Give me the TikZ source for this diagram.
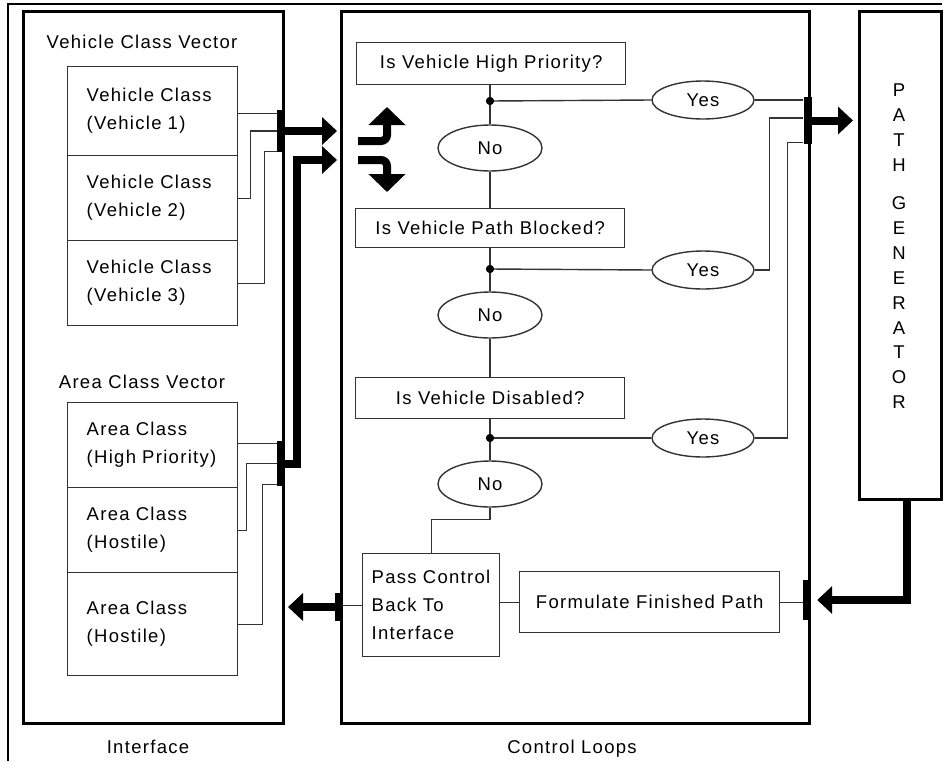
\documentclass[tikz,border=0pt]{standalone}
\usepackage{fontspec}
\setmainfont{Liberation Sans}[LetterSpace=7]
\usetikzlibrary{arrows.meta,shapes.geometric,calc}

\begin{document}
\begin{tikzpicture}[x=1pt,y=-1pt,
  frame/.style={draw=black, line width=3pt, rectangle, inner sep=0pt, anchor=north west},
  box/.style={draw=black!80, line width=1.4pt, rectangle, inner sep=0pt, anchor=north west},
  leftbox/.style={box, align=left, text width=#1, inner xsep=19pt},
  oval/.style={draw=black!80, line width=1.4pt, ellipse, inner sep=0pt},
  nooval/.style={oval, minimum width=104pt, minimum height=46pt},
  yesoval/.style={oval, minimum width=102pt, minimum height=38pt},
  wire/.style={draw=black!80, line width=1.4pt},
  bar/.style={fill=black, minimum width=8pt, inner sep=0pt, rectangle},
  dot/.style={fill=black, circle, minimum size=8pt, inner sep=0pt},
  fat/.style={line width=8pt, line join=miter, -{Triangle[width=27pt,length=15pt]}},
  swap/.style={line width=8pt, rounded corners=6pt, -{Triangle[width=36pt,length=18pt]}},
  font=\fontsize{18.5}{28}\selectfont]

\useasboundingbox (0,0) rectangle (947,761);

% outer frame
\draw[line width=2.5pt] (8,761) -- (8,4) -- (942,4);

% main blocks
\node[frame, minimum width=260pt, minimum height=712pt] (iface) at (22,10) {};
\node[frame, minimum width=468pt, minimum height=712pt] (ctrl) at (340,10) {};
\node[frame, minimum width=82pt, minimum height=488pt] (pgen) at (858,10) {};

\node (ilabel) at (148,747) {Interface};
\node (clabel) at (572,749) {Control Loops};

% path generator letters
\foreach \ch/\yy [count=\i] in {P/90,A/115,T/140,H/165,G/203,E/228,N/253,E/278,R/303,A/328,T/352,O/377,R/402}
  \node (pg\i) at (899,\yy) {\ch};

% interface contents
\node (vvec) at (142,42) {Vehicle Class Vector};
\node[leftbox=132pt, minimum width=170pt, minimum height=89pt] (veh1) at (67,66) {Vehicle Class\\(Vehicle 1)};
\node[leftbox=132pt, minimum width=170pt, minimum height=85pt] (veh2) at (67,155) {Vehicle Class\\(Vehicle 2)};
\node[leftbox=132pt, minimum width=170pt, minimum height=85pt] (veh3) at (67,240) {Vehicle Class\\(Vehicle 3)};

\node (avec) at (142,382) {Area Class Vector};
\node[leftbox=132pt, minimum width=170pt, minimum height=85pt] (area1) at (67,402) {Area Class\\(High Priority)};
\node[leftbox=132pt, minimum width=170pt, minimum height=85pt] (area2) at (67,487) {Area Class\\(Hostile)};
\node[leftbox=132pt, minimum width=170pt, minimum height=103pt] (area3) at (67,572) {Area Class\\(Hostile)};

% collector bars
\node[bar, minimum height=42pt] (vbar) at (281,131) {};
\node[bar, minimum height=45pt] (abar) at (281,463.5) {};
\node[bar, minimum height=47pt] (cbar) at (807.5,120.5) {};
\node[bar, minimum height=40pt] (bbar) at (807,600) {};
\node[bar, minimum height=28pt] (lbar) at (339,607) {};

% control loop contents
\node[box, minimum width=269pt, minimum height=42pt] (q1) at (356,42) {Is Vehicle High Priority?};
\node[box, minimum width=269pt, minimum height=39pt] (q2) at (355,208) {Is Vehicle Path Blocked?};
\node[box, minimum width=269pt, minimum height=41pt] (q3) at (355,377) {Is Vehicle Disabled?};

\node[nooval] (no1) at (490,148) {No};
\node[nooval] (no2) at (490,315) {No};
\node[nooval] (no3) at (490,484) {No};

\node[yesoval] (yes1) at (703,100) {Yes};
\node[yesoval] (yes2) at (703,270) {Yes};
\node[yesoval] (yes3) at (703,438) {Yes};

\node[box, align=left, minimum width=137pt, minimum height=103pt, inner xsep=9pt, text width=119pt] (pass) at (362,553) {Pass Control\\Back To\\Interface};
\node[box, minimum width=260pt, minimum height=61pt] (form) at (519,571) {Formulate Finished Path};

% interface wiring
\draw[wire] ($(veh1.east)+(0,2)$) coordinate (v1) -- (v1 -| vbar.west);
\draw[wire] (veh2.east) -- ++(12,0) |- (vbar.west);
\draw[wire] (veh3.east) -- ++(26,0) |- ($(vbar.south west)+(0,-1)$);
\draw[wire] ($(area1.east)+(0,-1.5)$) coordinate (a1) -- (a1 -| abar.west);
\draw[wire] (area2.east) -- ++(8,0) |- (abar.west);
\draw[wire] (area3.east) -- ++(24,0) |- ($(abar.south west)+(0,-1.5)$);

% decision flow
\node[dot] (d1) at (490,101) {};
\node[dot] (d2) at (490,269) {};
\node[dot] (d3) at (490,438) {};
\draw[wire] (q1.south -| d1) -- (no1.north);
\draw[wire] (no1.south) -- (q2.north -| no1);
\draw[wire] (q2.south -| d2) -- (no2.north);
\draw[wire] (no2.south) -- (q3.north -| no2);
\draw[wire] (q3.south -| d3) -- (no3.north);
\draw[wire] (d1) -- (yes1.west);
\draw[wire] (d2) -- (yes2.west);
\draw[wire] (d3) -- (yes3.west);
\node[dot] at (d1) {};
\node[dot] at (d2) {};
\node[dot] at (d3) {};

\draw[wire] (yes1.east) -- (yes1.east -| cbar.west);
\draw[wire] (yes2.east) -- ++(15,0) |- ($(cbar.west)+(0,-2.5)$);
\draw[wire] (yes3.east) -- ++(33,0) |- ($(cbar.south west)+(0,-2)$);

\draw[wire] (no3.south) -- ++(0,12) -| (pass.north);
\draw[wire] (pass.east |- form.west) -- (form.west);
\draw[wire] (form.east) -- (form.east -| bbar.west);
\draw[wire] (pass.west) -- (pass.west -| lbar.east);

% thick data flows
\draw[fat] (vbar.east) -- ($(ctrl.west |- vbar.east)+(-3,0)$);
\draw[fat] (abar.east) -| (297,160) -- ($(ctrl.west |- 0,160)+(-3,0)$);
\draw[fat] (cbar.east) -- ($(pgen.west |- cbar.east)+(-5,0)$);
\draw[fat] ($(pgen.south)+(6,0)$) |- ($(bbar.east)+(6,0)$);
\draw[fat] (lbar.west) -- ($(iface.east |- lbar.west)+(3,0)$);

% exchange symbol
\draw[swap] (358,141) -- (387,141) -- (387,107);
\draw[swap] (358,160) -- (387,160) -- (387,192);

\end{tikzpicture}
\end{document}
